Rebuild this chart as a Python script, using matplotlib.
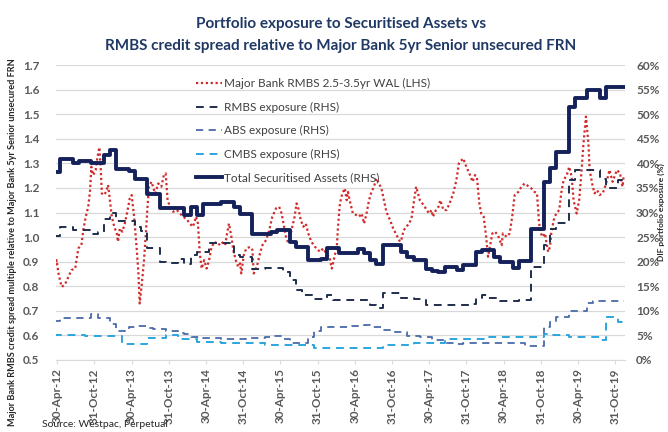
import matplotlib
matplotlib.use("Agg")
import matplotlib.pyplot as plt
import numpy as np

plt.rcParams["font.family"] = ["Lato", "DejaVu Sans"]

# month index 0 = 30-Apr-12, tick every 6 months
tick_labels = [
    "30-Apr-12", "31-Oct-12", "30-Apr-13", "31-Oct-13", "30-Apr-14", "31-Oct-14",
    "30-Apr-15", "31-Oct-15", "30-Apr-16", "31-Oct-16", "30-Apr-17", "31-Oct-17",
    "30-Apr-18", "31-Oct-18", "30-Apr-19", "31-Oct-19",
]

# Major Bank RMBS spread multiple (LHS)
spread_months = [
    -0.4, -0.1, 0.2, 0.7, 1.2, 1.8, 2.3, 2.9, 3.4, 3.9, 4.2, 4.6, 5.0, 5.3, 5.5, 5.8,
    6.2, 6.5, 6.8, 7.0, 7.2, 7.5, 7.9, 8.2, 8.5, 8.8, 9.2, 9.6, 9.8, 10.1, 10.5, 10.9,
    11.3, 11.7, 12.0, 12.4, 12.8, 13.1, 13.3, 13.6, 14.0, 14.3, 14.6, 14.8, 15.2, 15.8,
    16.3, 16.8, 17.2, 17.5, 17.8, 18.2, 18.7, 19.3,
    19.8, 20.3, 20.9, 21.4, 21.9, 22.4, 22.7, 23.0, 23.3, 23.7, 24.1, 24.5, 24.9, 25.4,
    26.0, 26.5, 27.1, 27.4, 27.7, 28.1, 28.4, 28.8, 29.2, 29.5, 29.7, 30.1, 30.5, 31.1,
    31.5, 31.7, 32.2, 32.7, 33.1, 33.7, 34.2, 34.7, 35.3, 35.8, 36.2, 36.5, 36.9, 37.3,
    37.8, 38.3, 38.6, 38.9, 39.3, 39.7, 40.1, 40.5, 41.0, 41.6, 42.1,
    42.4, 42.9, 43.4, 43.9, 44.3, 44.6, 45.1, 45.3, 45.6, 46.0, 46.4, 46.7, 46.9, 47.3,
    47.7, 48.3, 48.7, 49.1, 49.5, 49.9, 50.3, 50.7, 51.1, 51.5, 51.9, 52.3, 52.7, 53.1,
    53.7, 54.2, 54.6, 55.0, 55.3, 55.5, 55.9, 56.3, 56.8, 57.2, 57.5, 57.9, 58.2, 58.5,
    58.9, 59.3, 59.6, 60.0, 60.4, 60.6, 61.1, 61.5, 61.8, 62.3, 62.8, 63.3, 63.9, 64.4,
    64.8,
    65.0, 65.5, 66.0, 66.6, 67.0, 67.4, 67.7, 68.1, 68.4, 68.8, 69.2, 69.5, 69.8, 70.2,
    70.6, 71.1, 71.7, 71.9, 72.5, 73.0, 73.4, 73.8, 74.4, 74.9, 75.4, 76.0, 76.5, 77.0,
    77.4, 77.7, 77.9, 78.3, 78.7, 78.9, 79.2, 79.5, 79.7, 80.1, 80.5, 81.0, 81.3, 81.7,
    82.2, 82.6, 83.0, 83.3, 83.8, 84.2, 84.6, 84.9, 85.3, 85.7, 85.9, 86.4, 86.7, 87.1,
    87.5, 88.0, 88.3, 88.7, 89.1, 89.6, 90.0, 90.3, 90.8, 91.2, 91.4,
]
spread_values = [
    0.879, 0.906, 0.852, 0.798, 0.805, 0.838, 0.866, 0.872, 0.954, 0.967, 1.028, 1.083,
    1.123, 1.191, 1.286, 1.252, 1.273, 1.327, 1.365, 1.286, 1.177, 1.171, 1.184, 1.212,
    1.150, 1.083, 1.042, 1.015, 0.981, 1.035, 1.022, 1.055, 1.103, 1.157, 1.171, 1.083,
    0.960, 0.852, 0.730, 0.798, 0.906, 1.015, 1.137, 1.205, 1.225, 1.177, 1.218, 1.205,
    1.252, 1.259, 1.150, 1.123, 1.103, 1.110,
    1.096, 1.083, 1.072, 1.055, 1.042, 1.083, 1.055, 0.933, 0.872, 0.906, 0.872, 0.906,
    0.960, 0.981, 0.967, 0.981, 0.967, 1.015, 1.055, 1.001, 0.947, 0.906, 0.879, 0.893,
    0.852, 0.927, 0.954, 0.960, 0.947, 0.852, 0.879, 0.933, 0.967, 0.988, 1.028, 1.083,
    1.117, 1.123, 1.096, 1.055, 1.001, 0.974, 1.028, 1.083, 1.137, 1.117, 1.069, 1.042,
    1.055, 1.015, 0.981, 0.960, 0.947,
    0.940, 0.954, 0.933, 0.920, 0.872, 0.906, 0.960, 1.042, 1.137, 1.178, 1.198, 1.150,
    1.184, 1.137, 1.096, 1.089, 1.083, 1.096, 1.055, 1.096, 1.150, 1.184, 1.205, 1.239,
    1.218, 1.198, 1.150, 1.103, 1.069, 1.035, 1.015, 0.994, 0.981, 0.988, 1.028, 1.042,
    1.055, 1.083, 1.137, 1.205, 1.178, 1.150, 1.137, 1.123, 1.110, 1.096, 1.110, 1.083,
    1.110, 1.123, 1.150, 1.110, 1.110, 1.137, 1.178, 1.232, 1.300,
    1.306, 1.320, 1.286, 1.252, 1.225, 1.252, 1.245, 1.137, 1.096, 1.083, 1.001, 0.920,
    0.960, 1.015, 1.022, 1.008, 0.967, 1.015, 1.001, 1.015, 1.083, 1.171, 1.184, 1.205,
    1.218, 1.207, 1.198, 1.184, 1.178, 1.069, 1.022, 1.001, 1.015, 0.981, 0.940, 0.960,
    1.015, 1.069, 1.096, 1.110, 1.178, 1.232, 1.252, 1.286, 1.245, 1.150, 1.096, 1.150,
    1.273, 1.381, 1.490, 1.381, 1.273, 1.205, 1.178, 1.191, 1.171, 1.178, 1.198, 1.232,
    1.273, 1.225, 1.252, 1.273, 1.259, 1.205, 1.252,
]

# monthly exposures (RHS, %), one value per month from Apr-12
total_exposure = [
    38.3, 40.8, 40.8, 40.0, 40.5, 40.5, 40.0, 40.0, 41.7, 42.7, 38.9, 38.9,
    38.4, 36.8, 36.8, 33.7, 33.7, 31.0, 31.0, 31.0, 31.0, 29.5, 31.2, 29.5,
    31.7, 31.7, 31.7, 32.1, 32.1, 31.2, 29.7, 29.7, 25.6, 25.6, 25.6, 26.1,
    26.4, 26.4, 24.1, 23.0, 23.0, 20.3, 20.3, 20.6, 22.8, 22.8, 21.8, 21.8,
    21.8, 22.5, 21.8, 20.3, 19.6, 23.4, 23.4, 23.4, 22.0, 21.0, 20.3, 20.3,
    18.6, 18.1, 17.8, 19.0, 19.0, 18.3, 19.3, 19.3, 22.0, 22.4, 22.4, 21.0,
    20.0, 20.0, 18.8, 20.1, 20.1, 26.6, 26.6, 36.3, 39.1, 42.4, 42.4, 51.5,
    53.2, 53.2, 55.0, 55.0, 53.2, 55.6, 55.6, 55.6,
]
rmbs_exposure = [
    25.2, 27.1, 27.1, 26.4, 26.4, 26.5, 25.6, 26.1, 28.6, 30.0, 28.2, 28.2,
    28.2, 27.1, 26.3, 22.7, 22.7, 20.0, 19.8, 19.8, 20.5, 19.5, 21.3, 22.0,
    22.0, 23.7, 23.7, 23.8, 23.8, 21.3, 21.0, 21.0, 18.6, 18.6, 18.8, 18.8,
    18.8, 18.0, 16.2, 14.2, 13.2, 13.2, 12.5, 12.5, 13.2, 12.3, 12.3, 12.3,
    12.2, 12.2, 12.2, 11.2, 10.5, 13.6, 13.6, 13.6, 12.7, 12.7, 12.5, 12.5,
    11.2, 11.2, 11.2, 11.2, 11.2, 11.2, 11.2, 11.3, 12.7, 13.3, 12.6, 12.6,
    12.0, 12.0, 12.0, 12.3, 12.3, 19.0, 19.0, 23.4, 26.6, 27.9, 27.9, 36.6,
    38.6, 38.6, 38.6, 38.6, 36.9, 34.9, 34.9, 36.6,
]
abs_exposure = [
    8.0, 8.6, 8.6, 8.6, 8.6, 8.6, 9.3, 8.5, 8.5, 7.4, 6.0, 6.0,
    6.7, 6.9, 6.9, 6.6, 6.4, 6.4, 6.0, 6.0, 5.4, 5.3, 4.7, 4.7,
    4.5, 4.5, 4.5, 4.2, 4.2, 4.2, 4.2, 4.4, 4.4, 4.4, 4.7, 4.8,
    4.8, 4.2, 3.5, 3.4, 3.4, 4.6, 6.0, 6.7, 6.7, 6.7, 6.7, 6.7,
    7.0, 7.0, 7.2, 6.7, 6.7, 6.2, 6.2, 5.6, 5.6, 4.9, 4.9, 4.6,
    4.6, 4.1, 4.1, 3.5, 3.5, 3.3, 3.5, 3.5, 3.5, 3.5, 3.5, 3.5,
    3.5, 3.5, 3.5, 3.5, 2.8, 2.8, 2.8, 6.7, 7.7, 8.7, 8.7, 10.0,
    10.0, 10.0, 11.6, 12.0, 12.0, 12.0, 12.0, 12.0,
]
cmbs_exposure = [
    5.0, 5.0, 5.0, 5.0, 5.0, 4.8, 4.8, 4.8, 4.8, 4.8, 4.8, 3.2,
    3.2, 3.2, 3.2, 4.4, 4.4, 4.4, 5.0, 5.0, 4.3, 4.3, 4.3, 3.7,
    3.7, 3.7, 3.7, 3.4, 3.4, 3.4, 3.4, 3.4, 3.4, 3.4, 3.0, 3.0,
    3.0, 3.0, 3.0, 3.0, 3.0, 3.0, 2.4, 2.4, 2.4, 2.4, 2.4, 2.4,
    2.4, 2.4, 2.4, 2.4, 2.4, 3.0, 3.0, 3.0, 3.0, 3.0, 3.4, 3.4,
    3.4, 3.4, 3.4, 4.2, 4.2, 4.2, 4.2, 4.2, 4.2, 4.2, 4.7, 4.7,
    4.7, 4.7, 4.7, 4.7, 4.7, 4.7, 4.7, 5.3, 5.1, 5.1, 5.1, 4.6,
    4.6, 4.6, 4.6, 4.6, 4.1, 8.7, 8.7, 7.7,
]


def step_xy(values):
    # each monthly value is held for the whole month, centred on its tick
    x = np.arange(len(values)) - 0.5
    x = np.append(x, len(values) - 0.5)
    y = np.append(values, values[-1])
    return x, y


fig = plt.figure(figsize=(6.68, 4.32), dpi=100)
ax = fig.add_axes([56 / 668, 72 / 432, 569 / 668, 295 / 432])
ax2 = ax.twinx()

grey = "#595959"
ax.set_ylim(0.5, 1.7)
ax2.set_ylim(0, 60)
ax.set_xlim(-0.2, 91.6)
ax.set_yticks(np.arange(0.5, 1.71, 0.1))
ax.set_yticklabels([f"{v:.1f}" for v in np.arange(0.5, 1.71, 0.1)])
ax2.set_yticks(range(0, 61, 5))
ax2.set_yticklabels([f"{p}%" for p in range(0, 61, 5)])
ax.set_xticks(range(0, 91, 6))
ax.set_xticklabels(tick_labels, rotation=90)

ax.grid(axis="y", color="#d9d9d9", lw=0.9)
ax.set_axisbelow(True)
for a in (ax, ax2):
    for s in a.spines.values():
        s.set_visible(False)
ax.spines["bottom"].set_visible(True)
ax.spines["bottom"].set_color("#d9d9d9")
ax.tick_params(axis="y", length=0, pad=12, labelsize=8.5, labelcolor=grey)
ax2.tick_params(axis="y", length=0, pad=8, labelsize=8.5, labelcolor=grey)
ax.tick_params(axis="x", length=3, color="#d9d9d9", pad=3, labelsize=8.5, labelcolor=grey)
for lab in ax.get_yticklabels() + ax2.get_yticklabels() + ax.get_xticklabels():
    lab.set_fontweight("bold")

h1, = ax.plot(spread_months, spread_values, color="#d02a2a", ls=(0, (1, 1.2)), lw=1.6,
              label="Major Bank RMBS 2.5-3.5yr WAL (LHS)")
x, y = step_xy(rmbs_exposure)
h2, = ax2.plot(x, y, drawstyle="steps-post", color="#1f2d4d", ls=(0, (4, 3)), lw=1.4,
               label="RMBS exposure (RHS)")
x, y = step_xy(abs_exposure)
h3, = ax2.plot(x, y, drawstyle="steps-post", color="#4a6aa8", ls=(0, (4, 3)), lw=1.3,
               label="ABS exposure (RHS)")
x, y = step_xy(cmbs_exposure)
h4, = ax2.plot(x, y, drawstyle="steps-post", color="#2ba6de", ls=(0, (4, 3)), lw=1.4,
               label="CMBS exposure (RHS)")
x, y = step_xy(total_exposure)
h5, = ax2.plot(x, y, drawstyle="steps-post", color="#14215a", lw=2.8,
               label="Total Securitised Assets (RHS)")

leg = ax2.legend(handles=[h1, h2, h3, h4, h5], loc="upper left",
                 bbox_to_anchor=(0.235, 0.975), frameon=False, fontsize=8.5,
                 labelspacing=1.05, handlelength=2.2, handletextpad=0.2, borderpad=0)
for t in leg.get_texts():
    t.set_color("#404040")

fig.text(0.51, 0.945, "Portfolio exposure to Securitised Assets vs", ha="center",
         va="center", fontsize=11, fontweight="bold", color="#1f3864")
fig.text(0.51, 0.893, "RMBS credit spread relative to Major Bank 5yr Senior unsecured FRN",
         ha="center", va="center", fontsize=11, fontweight="bold", color="#1f3864")
fig.text(0.018, 0.44, "Major Bank RMBS credit spread multiple relative to Major Bank 5yr Senior unsecured FRN",
         rotation=90, ha="center", va="center", fontsize=6.6, fontweight="bold", color="#262626")
fig.text(0.99, 0.51, "DIF portfolio exposure (%)", rotation=90, ha="center", va="center",
         fontsize=6, fontweight="bold", color="#262626")
fig.text(0.063, 0.018, "Source: Westpac, Perpetual", ha="left", va="center",
         fontsize=7.5, color="#262626")

fig.savefig("out.png", dpi=100)
